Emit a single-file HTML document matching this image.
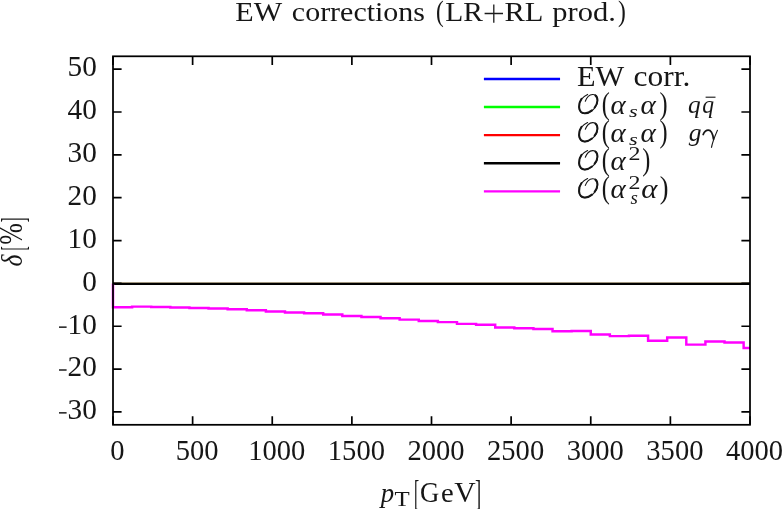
<!DOCTYPE html>
<html><head><meta charset="utf-8"><title>EW corrections (LR+RL prod.)</title>
<style>
html,body{margin:0;padding:0;background:#fff;overflow:hidden;}
svg{display:block;will-change:transform;}
text{font-family:"Liberation Serif",serif;font-size:100px;fill:#161616;}
text.n{font-size:28px;}
.i{font-style:italic;}
</style></head><body>
<svg width="782" height="509" viewBox="0 0 782 509">
<rect width="782" height="509" fill="#fff"/>
<!-- data curves -->
<g fill="none" stroke-width="2.3" stroke-linejoin="miter">
<path d="M113.0 283.30 H750.0" stroke="#c8b48c" stroke-width="2.0"/>
<path d="M113.0 283.85 H750.0" stroke="#000" stroke-width="2.1"/>
<path d="M113.00 283.40 L113.00 307.30 L113.00 307.30 L132.11 307.30 L132.11 306.60 L151.22 306.60 L151.22 306.90 L170.33 306.90 L170.33 307.40 L189.44 307.40 L189.44 307.90 L208.55 307.90 L208.55 308.40 L227.66 308.40 L227.66 309.20 L246.77 309.20 L246.77 310.30 L265.88 310.30 L265.88 311.40 L284.99 311.40 L284.99 312.40 L304.10 312.40 L304.10 313.30 L323.21 313.30 L323.21 314.50 L342.32 314.50 L342.32 315.90 L361.43 315.90 L361.43 316.90 L380.54 316.90 L380.54 318.30 L399.65 318.30 L399.65 319.60 L418.76 319.60 L418.76 320.90 L437.87 320.90 L437.87 322.10 L456.98 322.10 L456.98 323.85 L476.09 323.85 L476.09 324.80 L495.20 324.80 L495.20 327.50 L514.31 327.50 L514.31 328.30 L533.42 328.30 L533.42 328.90 L552.53 328.90 L552.53 331.30 L571.64 331.30 L571.64 331.00 L590.75 331.00 L590.75 334.40 L609.86 334.40 L609.86 336.10 L628.97 336.10 L628.97 335.70 L648.08 335.70 L648.08 340.65 L667.19 340.65 L667.19 337.50 L686.30 337.50 L686.30 344.60 L705.41 344.60 L705.41 341.40 L724.52 341.40 L724.52 342.40 L743.63 342.40 L743.63 348.00 L750.00 348.00" stroke="#ff00ff" stroke-width="2.45"/>
</g>
<!-- legend samples -->
<g fill="none" stroke-width="2.4">
<path d="M483.9 78.95 H560.05" stroke="#0000ff"/>
<path d="M483.9 107.05 H560.05" stroke="#00ff00"/>
<path d="M483.9 135.15 H560.05" stroke="#ff0000"/>
<path d="M483.9 163.25 H560.05" stroke="#000"/>
<path d="M483.9 191.35 H560.05" stroke="#ff00ff"/>
</g>
<!-- axes -->
<path d="M113.00 69.15 h8.6 M750.00 69.15 h-8.6 M113.00 112.00 h8.6 M750.00 112.00 h-8.6 M113.00 154.85 h8.6 M750.00 154.85 h-8.6 M113.00 197.70 h8.6 M750.00 197.70 h-8.6 M113.00 240.55 h8.6 M750.00 240.55 h-8.6 M113.00 283.40 h8.6 M750.00 283.40 h-8.6 M113.00 326.25 h8.6 M750.00 326.25 h-8.6 M113.00 369.10 h8.6 M750.00 369.10 h-8.6 M113.00 411.95 h8.6 M750.00 411.95 h-8.6 M113.00 424.80 v-8.6 M113.00 56.30 v8.6 M192.62 424.80 v-8.6 M192.62 56.30 v8.6 M272.25 424.80 v-8.6 M272.25 56.30 v8.6 M351.88 424.80 v-8.6 M351.88 56.30 v8.6 M431.50 424.80 v-8.6 M431.50 56.30 v8.6 M511.12 424.80 v-8.6 M511.12 56.30 v8.6 M590.75 424.80 v-8.6 M590.75 56.30 v8.6 M670.38 424.80 v-8.6 M670.38 56.30 v8.6 M750.00 424.80 v-8.6 M750.00 56.30 v8.6 " fill="none" stroke="#000" stroke-width="1.7"/>
<rect x="113.0" y="56.3" width="637.0" height="368.5" fill="none" stroke="#000" stroke-width="1.75"/>
<!-- plus sign in title -->
<path d="M484.6 13.5 H503 M493.8 4.5 V22.7" stroke="#1c1c1c" stroke-width="1.3" fill="none"/>
<!-- q-bar -->
<path d="M705.6 97.2 H715.5" stroke="#161616" stroke-width="1.1" fill="none"/>
<!-- calligraphic O and gamma -->
<g transform="translate(0,-0.0)" fill="none" stroke="#161616" stroke-linecap="round"><path d="M587.6 94.4 C582 97 578.7 102 578.9 107 C579.1 111.6 581.6 113.7 585 113.5 C591 113.2 597.5 107 597.6 100.6 C597.7 96.6 595.6 94.3 592.6 94.5 C589.6 94.7 586.6 97.6 585.3 101.2" stroke-width="1.1"/><path d="M581.5 98.8 C579.6 101.4 578.9 104.3 579.1 107 C579.3 111.4 581.7 113.5 585 113.3 C587.4 113.2 589.9 112.1 592 110.4" stroke-width="2"/><path d="M594.6 107.6 C596.4 105.4 597.4 102.9 597.4 100.6 C597.5 98.3 596.7 96.4 595.3 95.4" stroke-width="2"/></g>
<g transform="translate(0,28.1)" fill="none" stroke="#161616" stroke-linecap="round"><path d="M587.6 94.4 C582 97 578.7 102 578.9 107 C579.1 111.6 581.6 113.7 585 113.5 C591 113.2 597.5 107 597.6 100.6 C597.7 96.6 595.6 94.3 592.6 94.5 C589.6 94.7 586.6 97.6 585.3 101.2" stroke-width="1.1"/><path d="M581.5 98.8 C579.6 101.4 578.9 104.3 579.1 107 C579.3 111.4 581.7 113.5 585 113.3 C587.4 113.2 589.9 112.1 592 110.4" stroke-width="2"/><path d="M594.6 107.6 C596.4 105.4 597.4 102.9 597.4 100.6 C597.5 98.3 596.7 96.4 595.3 95.4" stroke-width="2"/></g>
<g transform="translate(0,56.1)" fill="none" stroke="#161616" stroke-linecap="round"><path d="M587.6 94.4 C582 97 578.7 102 578.9 107 C579.1 111.6 581.6 113.7 585 113.5 C591 113.2 597.5 107 597.6 100.6 C597.7 96.6 595.6 94.3 592.6 94.5 C589.6 94.7 586.6 97.6 585.3 101.2" stroke-width="1.1"/><path d="M581.5 98.8 C579.6 101.4 578.9 104.3 579.1 107 C579.3 111.4 581.7 113.5 585 113.3 C587.4 113.2 589.9 112.1 592 110.4" stroke-width="2"/><path d="M594.6 107.6 C596.4 105.4 597.4 102.9 597.4 100.6 C597.5 98.3 596.7 96.4 595.3 95.4" stroke-width="2"/></g>
<g transform="translate(0,84.2)" fill="none" stroke="#161616" stroke-linecap="round"><path d="M587.6 94.4 C582 97 578.7 102 578.9 107 C579.1 111.6 581.6 113.7 585 113.5 C591 113.2 597.5 107 597.6 100.6 C597.7 96.6 595.6 94.3 592.6 94.5 C589.6 94.7 586.6 97.6 585.3 101.2" stroke-width="1.1"/><path d="M581.5 98.8 C579.6 101.4 578.9 104.3 579.1 107 C579.3 111.4 581.7 113.5 585 113.3 C587.4 113.2 589.9 112.1 592 110.4" stroke-width="2"/><path d="M594.6 107.6 C596.4 105.4 597.4 102.9 597.4 100.6 C597.5 98.3 596.7 96.4 595.3 95.4" stroke-width="2"/></g>
<g fill="none" stroke="#161616" stroke-linecap="round"><path d="M703.2 134.5 C704.4 131.6 706.3 130.2 708.3 130.2 C710.8 130.2 712.7 133.4 713.5 139.2" stroke-width="1.8"/><path d="M717.4 130.4 C715.4 135 712.7 141 711.5 147.3" stroke-width="1.15"/></g>

<!-- fitted text -->
<text transform="translate(235.35,20.75) scale(0.3013,0.2808)">EW</text>
<text transform="translate(291.85,20.75) scale(0.2998,0.2808)">corrections</text>
<text transform="translate(445.17,20.75) scale(0.2948,0.2808)">LR</text>
<text transform="translate(504.43,20.75) scale(0.3050,0.2808)">RL</text>
<text transform="translate(552.34,20.75) scale(0.3050,0.2808)">prod.</text>
<text transform="translate(435.91,21.17) scale(0.2346,0.3039)">(</text>
<text transform="translate(617.95,21.17) scale(0.2346,0.3039)">)</text>
<text transform="translate(577.04,85.65) scale(0.3039,0.2846)">EW</text>
<text transform="translate(633.49,85.65) scale(0.3147,0.2846)">corr.</text>
<text transform="translate(601.68,113.81) scale(0.2423,0.3056)">(</text>
<text transform="translate(610.58,113.76) scale(0.2902,0.2708)" class="i">α</text>
<text transform="translate(629.03,117.26) scale(0.2229,0.1688)" class="i">s</text>
<text transform="translate(640.47,113.76) scale(0.2922,0.2708)" class="i">α</text>
<text transform="translate(659.42,113.81) scale(0.2423,0.3056)">)</text>
<text transform="translate(688.09,113.06) scale(0.2533,0.2603)" class="i">q</text>
<text transform="translate(702.14,113.06) scale(0.2356,0.2603)" class="i">q</text>
<text transform="translate(601.68,141.89) scale(0.2423,0.3056)">(</text>
<text transform="translate(610.58,141.84) scale(0.2902,0.2708)" class="i">α</text>
<text transform="translate(629.03,145.34) scale(0.2229,0.1687)" class="i">s</text>
<text transform="translate(640.47,141.84) scale(0.2922,0.2708)" class="i">α</text>
<text transform="translate(659.42,141.89) scale(0.2423,0.3056)">)</text>
<text transform="translate(688.85,141.34) scale(0.2553,0.2603)" class="i">g</text>
<text transform="translate(601.68,169.97) scale(0.2423,0.3056)">(</text>
<text transform="translate(610.58,169.92) scale(0.2902,0.2708)" class="i">α</text>
<text transform="translate(628.39,159.69) scale(0.2400,0.1908)">2</text>
<text transform="translate(642.22,169.97) scale(0.2423,0.3056)">)</text>
<text transform="translate(601.68,198.03) scale(0.2423,0.3056)">(</text>
<text transform="translate(610.58,197.98) scale(0.2902,0.2708)" class="i">α</text>
<text transform="translate(628.39,189.35) scale(0.2400,0.1877)">2</text>
<text transform="translate(630.46,204.36) scale(0.1886,0.1854)" class="i">s</text>
<text transform="translate(641.33,198.08) scale(0.3078,0.2729)" class="i">α</text>
<text transform="translate(659.87,198.03) scale(0.2615,0.3056)">)</text>
<text transform="translate(380.86,502.04) scale(0.2679,0.2721)" class="i">p</text>
<text transform="translate(394.55,505.95) scale(0.2491,0.2031)">T</text>
<text transform="translate(414.05,504.77) scale(0.1565,0.3482)">[</text>
<text transform="translate(419.88,501.95) scale(0.2677,0.3000)">G</text>
<text transform="translate(441.00,502.28) scale(0.2865,0.2729)">e</text>
<text transform="translate(454.15,501.77) scale(0.2971,0.2910)">V</text>
<text transform="translate(475.00,504.77) scale(0.1864,0.3482)">]</text>
<text transform="rotate(-90) translate(-266.52,21.66) scale(0.2556,0.2915)" class="i">δ</text>
<text transform="rotate(-90) translate(-250.46,23.65) scale(0.1304,0.3384)">[</text>
<text transform="rotate(-90) translate(-244.73,22.48) scale(0.2584,0.3336)">%</text>
<text transform="rotate(-90) translate(-222.31,23.65) scale(0.1409,0.3384)">]</text>

<!-- tick labels -->
<text transform="translate(96.8,76.40) scale(1.045,1.030)" text-anchor="end" class="n">50</text>
<text transform="translate(96.8,119.25) scale(1.045,1.030)" text-anchor="end" class="n">40</text>
<text transform="translate(96.8,162.10) scale(1.045,1.030)" text-anchor="end" class="n">30</text>
<text transform="translate(96.8,204.95) scale(1.045,1.030)" text-anchor="end" class="n">20</text>
<text transform="translate(96.8,247.80) scale(1.045,1.030)" text-anchor="end" class="n">10</text>
<text transform="translate(96.8,290.65) scale(1.045,1.030)" text-anchor="end" class="n">0</text>
<text transform="translate(96.8,333.50) scale(1.045,1.030)" text-anchor="end" class="n">10</text>
<path d="M59.0 327.15 H66.6" stroke="#1c1c1c" stroke-width="1.5" fill="none"/>
<text transform="translate(96.8,376.35) scale(1.045,1.030)" text-anchor="end" class="n">20</text>
<path d="M59.0 370.00 H66.6" stroke="#1c1c1c" stroke-width="1.5" fill="none"/>
<text transform="translate(96.8,419.20) scale(1.045,1.030)" text-anchor="end" class="n">30</text>
<path d="M59.0 412.85 H66.6" stroke="#1c1c1c" stroke-width="1.5" fill="none"/>
<text transform="translate(117.50,460.15) scale(1.02,1.030)" text-anchor="middle" class="n">0</text>
<text transform="translate(197.12,460.15) scale(1.02,1.030)" text-anchor="middle" class="n">500</text>
<text transform="translate(276.75,460.15) scale(1.02,1.030)" text-anchor="middle" class="n">1000</text>
<text transform="translate(356.38,460.15) scale(1.02,1.030)" text-anchor="middle" class="n">1500</text>
<text transform="translate(436.00,460.15) scale(1.02,1.030)" text-anchor="middle" class="n">2000</text>
<text transform="translate(515.62,460.15) scale(1.02,1.030)" text-anchor="middle" class="n">2500</text>
<text transform="translate(595.25,460.15) scale(1.02,1.030)" text-anchor="middle" class="n">3000</text>
<text transform="translate(674.88,460.15) scale(1.02,1.030)" text-anchor="middle" class="n">3500</text>
<text transform="translate(754.50,460.15) scale(1.02,1.030)" text-anchor="middle" class="n">4000</text>

</svg>
</body></html>
